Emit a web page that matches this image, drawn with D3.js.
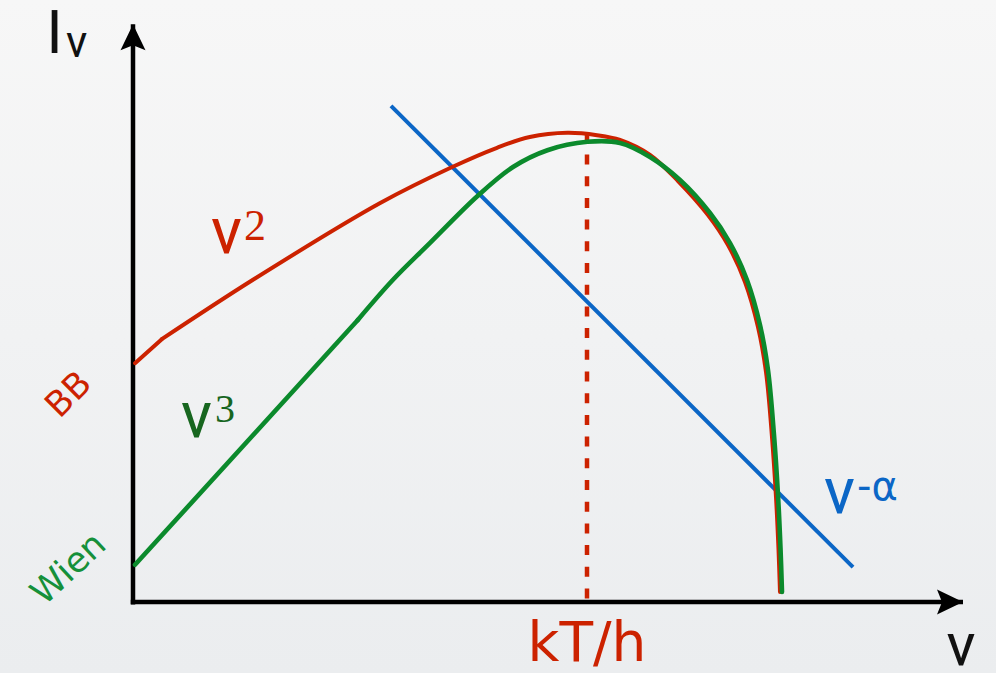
<!DOCTYPE html>
<html>
<head>
<meta charset="utf-8">
<script src="https://cdn.jsdelivr.net/npm/d3@7"></script>
<style>
  html, body { margin: 0; padding: 0; }
  body { width: 996px; height: 673px; overflow: hidden; }
  svg { display: block; }
</style>
</head>
<body>
<svg id="chart" width="996" height="673"></svg>
<script>
// Frequency (ν) and intensity (I_ν) in arbitrary units.
const bbNu      = [0.025, 0.36, 1.5, 3.09, 3.99, 4.55, 4.96, 5.43, 5.80, 6.0875, 6.4625, 6.8125, 7.1875, 7.4375, 7.65, 7.8125, 7.9125, 7.9875, 8.0375, 8.06875, 8.0875];
const bbI       = [3.98, 4.38, 5.37, 6.65, 7.25, 7.57, 7.75, 7.82, 7.78, 7.70, 7.45, 7.017, 6.45, 5.95, 5.333, 4.583, 3.833, 2.75, 1.75, 0.883, 0.167];
const wienNu    = [0.025, 2.81, 3.25, 3.71, 4.31, 4.75, 5.18, 5.68, 6.0875, 6.4625, 6.8375, 7.2125, 7.4625, 7.675, 7.8375, 7.9375, 8.0125, 8.0625, 8.09375, 8.1125];
const wienI     = [0.62, 4.70, 5.37, 5.98, 6.77, 7.25, 7.53, 7.67, 7.65, 7.417, 7.033, 6.483, 5.983, 5.367, 4.617, 3.867, 2.783, 1.783, 0.9, 0.167];
const powerNu   = [3.225, 9.0];
const powerI    = [8.27, 0.58];
const peakNu    = 5.675;            // kT/h
const peakI     = [7.82, 0.03];
const axisNuMax = 10.375;           // tip of the ν arrow
const axisIMax  = 9.63;             // tip of the I_ν arrow
// index where the low-frequency straight run ends and the smooth part begins
const bbKink = 1, wienKink = 1;

const colors = { bb: "#cc2200", wien: "#0b8a2c", wienLabel: "#17661f", wienName: "#15903a", power: "#0b66c6", axis: "#000" };

const svg = d3.select("#chart");
const W = 996, H = 673;

const x = d3.scaleLinear().domain([0, 10]).range([133, 933]);
const y = d3.scaleLinear().domain([0, 10]).range([602, 2]);

// soft grey background
const defs = svg.append("defs");
const grad = defs.append("linearGradient").attr("id", "bg").attr("x1", 0).attr("y1", 0).attr("x2", 0).attr("y2", 1);
grad.append("stop").attr("offset", "0%").attr("stop-color", "#f7f7f7");
grad.append("stop").attr("offset", "100%").attr("stop-color", "#ebedef");
svg.append("rect").attr("width", W).attr("height", H).attr("fill", "url(#bg)");

// arrowhead
defs.append("marker")
  .attr("id", "arrow")
  .attr("viewBox", "-27 -13 28 26")
  .attr("refX", 0).attr("refY", 0)
  .attr("markerWidth", 28).attr("markerHeight", 26)
  .attr("markerUnits", "userSpaceOnUse")
  .attr("orient", "auto")
  .append("path")
  .attr("d", "M0,0 L-26,-12.5 L-21,0 L-26,12.5 Z")
  .attr("fill", colors.axis);

const pts = (nu, I) => nu.map((v, i) => [v, I[i]]);
const lin = d3.line().x(d => x(d[0])).y(d => y(d[1]));
const smooth = d3.line().x(d => x(d[0])).y(d => y(d[1])).curve(d3.curveCatmullRom.alpha(0.5));

function curve(nu, I, kink, color, width) {
  const p = pts(nu, I);
  const g = svg.append("g").attr("fill", "none").attr("stroke", color)
    .attr("stroke-width", width).attr("stroke-linecap", "round").attr("stroke-linejoin", "round");
  g.append("path").attr("d", lin(p.slice(0, kink + 1)));
  g.append("path").attr("d", smooth(p.slice(kink)));
}

// axes
svg.append("path")
  .attr("d", lin([[-0.028, 0], [axisNuMax, 0]]))
  .attr("stroke", colors.axis).attr("stroke-width", 4.5).attr("fill", "none")
  .attr("marker-end", "url(#arrow)");
svg.append("path")
  .attr("d", lin([[0, -0.04], [0, axisIMax]]))
  .attr("stroke", colors.axis).attr("stroke-width", 4.5).attr("fill", "none")
  .attr("marker-end", "url(#arrow)");

// power law
svg.append("path")
  .attr("d", lin(pts(powerNu, powerI)))
  .attr("stroke", colors.power).attr("stroke-width", 4).attr("fill", "none");

// peak marker
svg.append("path")
  .attr("d", lin([[peakNu, peakI[0]], [peakNu, peakI[1]]]))
  .attr("stroke", colors.bb).attr("stroke-width", 4.5).attr("fill", "none")
  .attr("stroke-dasharray", "10,11.7");

// spectra
curve(bbNu, bbI, bbKink, colors.bb, 4);
curve(wienNu, wienI, wienKink, colors.wien, 4.6);

// labels
const sans = "'DejaVu Sans', sans-serif";
const nuFont = "Roboto, 'DejaVu Sans', sans-serif";
const serif = "'Liberation Serif', serif";

function label(px, py, color, family) {
  return svg.append("text").attr("x", px).attr("y", py).attr("fill", color).attr("font-family", family || sans);
}
function nu(sel) {
  return sel.append("tspan").attr("font-family", nuFont).text("ν");
}

// I_ν
const iLab = label(46, 53, "#111").attr("font-size", 58);
iLab.append("tspan").text("I");
nu(iLab).attr("font-size", 44).attr("dy", 4).attr("dx", 3);

// ν axis name
nu(label(961, 665, "#111").attr("font-size", 60).attr("text-anchor", "middle"));

// kT/h
label(x(peakNu), 661, colors.bb).attr("font-size", 55).attr("text-anchor", "middle").text("kT/h");

// ν²
const l2 = label(211, 253, colors.bb).attr("font-size", 64);
nu(l2);
l2.append("tspan").attr("font-family", serif).attr("font-size", 44).attr("dy", -13).attr("dx", 2).text("2");

// ν³
const l3 = label(181, 437, colors.wienLabel).attr("font-size", 64);
nu(l3);
l3.append("tspan").attr("font-family", serif).attr("font-size", 40).attr("dy", -15).attr("dx", 3).text("3");

// ν^-α
const la = label(824, 513, colors.power).attr("font-size", 64);
nu(la);
la.append("tspan").attr("font-family", sans).attr("font-size", 40).attr("dy", -13).attr("dx", 2).text("-α");

// curve names, set at an angle
label(0, 0, colors.bb).attr("font-size", 35).attr("text-anchor", "middle")
  .attr("dominant-baseline", "central")
  .attr("transform", "translate(68,394) rotate(-45)").text("BB");
label(0, 0, colors.wienName).attr("font-size", 35).attr("text-anchor", "middle")
  .attr("dominant-baseline", "central")
  .attr("transform", "translate(68,568) rotate(-43)").text("Wien");
</script>
</body>
</html>
